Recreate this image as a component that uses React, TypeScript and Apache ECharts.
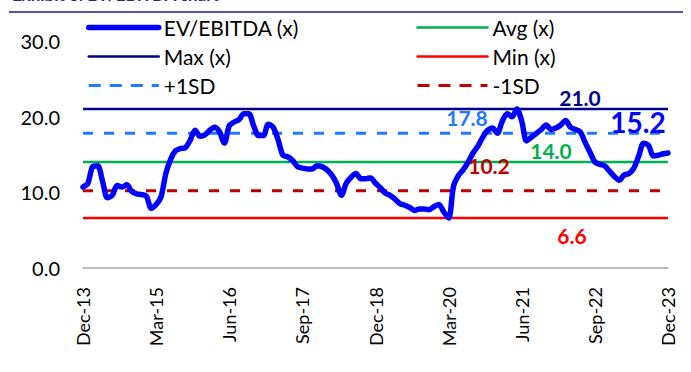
import React, { useEffect, useRef } from "react";
import * as echarts from "echarts";

const evEbitda: number[] = [
  10.7, 11.2, 13.4, 13.5, 11.5, 9.3, 9.6, 10.9, 10.7, 11.0,
  10.1, 9.8, 9.7, 9.5, 7.9, 8.4, 9.4, 12.5, 14.4, 15.5,
  15.8, 15.9, 16.9, 18.2, 17.4, 17.6, 18.2, 18.6, 18.0, 16.5,
  18.8, 19.3, 19.6, 20.4, 20.4, 18.8, 17.5, 17.5, 19.0, 18.6,
  17.0, 14.9, 14.7, 14.2, 13.4, 13.2, 13.1, 13.1, 13.5, 13.4,
  13.0, 12.3, 11.2, 9.6, 11.2, 12.0, 12.5, 11.8, 11.8, 11.9,
  11.2, 10.6, 9.9, 9.6, 9.1, 8.5, 8.3, 8.0, 7.6, 7.8,
  7.8, 7.7, 8.1, 8.4, 7.4, 6.6, 10.8, 12.2, 13.0, 14.0,
  15.2, 16.1, 17.3, 18.2, 18.5, 17.8, 19.4, 20.4, 20.0, 21.0,
  19.4, 16.8, 17.3, 17.8, 18.3, 18.9, 18.3, 18.5, 18.9, 19.5,
  18.6, 18.3, 18.0, 16.6, 15.3, 14.0, 13.7, 13.5, 12.8, 12.1,
  11.6, 12.3, 12.5, 13.2, 14.8, 16.5, 16.2, 14.8, 14.9, 15.1,
  15.2,
];

const maxVal = 21.0;
const avgVal = 14.0;
const minVal = 6.6;
const plusSD = 17.8;
const minusSD = 10.2;
const lastVal = 15.2;

const seriesNames = ["EV/EBITDA (x)", "Max (x)", "+1SD", "Avg (x)", "Min (x)", "-1SD"];
const monthNames = ["Jan", "Feb", "Mar", "Apr", "May", "Jun", "Jul", "Aug", "Sep", "Oct", "Nov", "Dec"];
const startYear = 2013;
const startMonth = 11; // Dec

const categories: string[] = evEbitda.map((_, i) => {
  const m = (startMonth + i) % 12;
  const y = startYear + Math.floor((startMonth + i) / 12);
  return `${monthNames[m]}-${String(y % 100).padStart(2, "0")}`;
});

const FONT = "Lato";

export default function App() {
  const ref = useRef<HTMLDivElement>(null);
  useEffect(() => {
    document.body.style.margin = "0";
    if (!ref.current) return;
    const chart = echarts.init(ref.current, undefined, { renderer: "svg" });
    const flat = (v: number) => evEbitda.map(() => v);
    const lineSeries = (name: string, v: number, color: string, width: number, type: any) => ({
      name,
      type: "line",
      data: flat(v),
      symbol: "none",
      lineStyle: { color, width, type },
      itemStyle: { color },
      z: 2,
    });
    const valueLabel = (text: string, x: number, y: number, color: string, size: number) => ({
      type: "text",
      x,
      y,
      style: {
        text,
        fill: color,
        font: `bold ${size}px ${FONT}`,
        textAlign: "center",
        textVerticalAlign: "middle",
      },
      z: 10,
    });
    const legendBase = {
      top: 12,
      orient: "vertical",
      itemWidth: 70,
      itemHeight: 14,
      itemGap: 8,
      itemStyle: { opacity: 0 },
      textStyle: { fontFamily: FONT, fontSize: 21, color: "#000" },
    };
    const solidItem = (name: string, w: number) => ({ name, lineStyle: { width: w, cap: "round" } });
    const dashItem = (name: string) => ({ name, lineStyle: { width: 3, type: [12, 9] } });
    chart.setOption({
      animation: false,
      backgroundColor: "#ffffff",
      grid: { left: 83, right: 23, top: 41, bottom: 104 },
      legend: [
        { ...legendBase, left: 81, data: [solidItem("EV/EBITDA (x)", 5.5), solidItem("Max (x)", 2.5), dashItem("+1SD")] },
        { ...legendBase, left: 411, data: [solidItem("Avg (x)", 2.5), solidItem("Min (x)", 2.5), dashItem("-1SD")] },
      ],
      xAxis: {
        type: "category",
        data: categories,
        boundaryGap: false,
        axisLine: { show: true, lineStyle: { color: "#A6A6A6", width: 1.5 } },
        axisTick: { show: false },
        axisLabel: {
          interval: 14,
          rotate: 90,
          margin: 19,
          fontFamily: FONT,
          fontSize: 18,
          color: "#000",
        },
        splitLine: { show: false },
      },
      yAxis: {
        type: "value",
        min: 0,
        max: 30,
        interval: 10,
        axisLine: { show: false },
        axisTick: { show: false },
        splitLine: { show: false },
        axisLabel: {
          margin: 23,
          fontFamily: FONT,
          fontSize: 20,
          color: "#000",
          formatter: (v: number) => v.toFixed(1),
        },
      },
      series: [
        lineSeries(seriesNames[1], maxVal, "#00008B", 2.5, "solid"),
        lineSeries(seriesNames[2], plusSD, "#1E7BFF", 3, [10, 11]),
        lineSeries(seriesNames[3], avgVal, "#00B050", 2.5, "solid"),
        lineSeries(seriesNames[4], minVal, "#FF0000", 2.5, "solid"),
        lineSeries(seriesNames[5], minusSD, "#C00000", 3, [10, 11]),
        {
          name: seriesNames[0],
          type: "line",
          data: evEbitda,
          symbol: "none",
          smooth: 0.3,
          lineStyle: { color: "#0000FF", width: 5.5, cap: "round", join: "round" },
          itemStyle: { color: "#0000FF" },
          z: 5,
        },
      ],
      graphic: [
        {
          type: "text",
          left: 12,
          top: -14,
          style: {
            text: "Exhibit 8: EV/EBITDA chart",
            fill: "#1F2A7A",
            font: `bold 17px ${FONT}`,
          },
        },
        {
          type: "line",
          shape: { x1: 9, y1: 12, x2: 683, y2: 12 },
          style: { stroke: "#1F1F80", lineWidth: 1.5 },
        },
        valueLabel("21.0", 580, 97, "#00008B", 21),
        valueLabel("17.8", 467, 117, "#1E7BFF", 21),
        valueLabel("14.0", 551, 150, "#00B050", 21),
        valueLabel("10.2", 489, 165, "#C00000", 21),
        valueLabel("6.6", 572, 235, "#FF0000", 21),
        valueLabel(String(lastVal.toFixed(1)), 638, 122, "#0000FF", 28),
      ],
    });
    return () => chart.dispose();
  }, []);
  return <div ref={ref} style={{ width: 691, height: 372 }} />;
}
